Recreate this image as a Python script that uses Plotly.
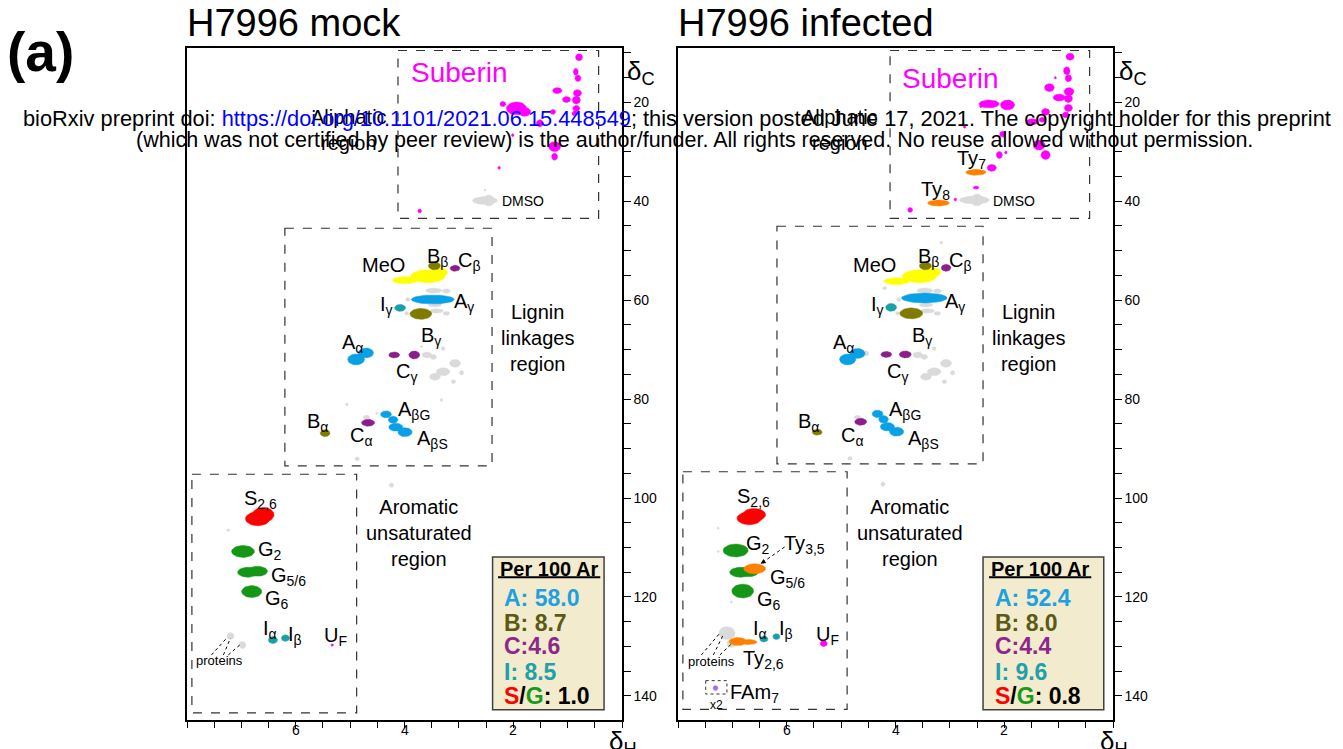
import numpy as np
import plotly.graph_objects as go

# ---------------- data (delta-H ppm, delta-C ppm, width-H, width-C) ----------------
mock_suberin = [(0.79, 10.97, 0.13, 1.4), (0.85, 13.9, 0.09, 1.4), (0.81, 15.2, 0.11, 1.3),
                (1.19, 17.7, 0.17, 1.2), (0.82, 18.2, 0.15, 1.4), (1.02, 19.5, 0.15, 1.2),
                (0.84, 19.6, 0.15, 1.6), (0.84, 21.3, 0.13, 1.2), (0.87, 22.3, 0.10, 1.0),
                (1.27, 22.0, 0.10, 1.0), (1.94, 21.3, 0.37, 2.6), (1.79, 22.0, 0.22, 1.8),
                (2.19, 20.4, 0.11, 1.0), (2.21, 20.6, 0.05, 0.5), (1.51, 24.3, 0.13, 1.4),
                (2.01, 26.7, 0.05, 0.6), (1.24, 29.0, 0.22, 2.0), (1.24, 31.05, 0.11, 1.4),
                (2.26, 33.3, 0.05, 0.6), (3.72, 42.0, 0.07, 0.8), (5.33, 129.7, 0.05, 0.5)]
mock_gray = [(2.52, 39.9, 0.46, 1.6), (2.45, 39.9, 0.20, 2.2), (2.52, 37.8, 0.04, 0.5),
             (3.46, 58.1, 0.30, 1.0), (3.23, 58.2, 0.15, 0.9), (3.94, 59.9, 0.08, 0.8),
             (3.41, 62.2, 0.25, 0.9), (3.23, 62.7, 0.12, 0.8), (3.96, 62.7, 0.08, 0.7),
             (3.44, 61.0, 0.25, 0.8), (3.69, 69.4, 0.04, 0.5), (3.29, 69.8, 0.07, 0.8),
             (3.59, 71.1, 0.18, 1.2), (3.47, 71.5, 0.12, 1.0), (3.07, 72.8, 0.20, 1.6),
             (3.29, 74.5, 0.25, 1.6), (3.44, 75.5, 0.20, 1.4), (2.95, 74.7, 0.08, 0.9),
             (3.10, 76.5, 0.08, 0.8), (5.06, 81.1, 0.05, 0.6), (3.32, 80.2, 0.05, 0.6),
             (4.70, 83.7, 0.12, 0.8), (4.51, 82.9, 0.05, 0.5), (4.87, 92.1, 0.08, 0.8),
             (7.20, 127.9, 0.13, 1.4), (6.98, 129.7, 0.13, 1.4), (7.24, 106.5, 0.06, 0.5),
             (4.24, 97.4, 0.08, 0.9)]
mock_meo = [(3.99, 56.0, 0.46, 1.4), (3.57, 55.2, 0.63, 2.6), (3.36, 54.4, 0.30, 2.0)]
mock_A = [(3.48, 59.9, 0.79, 1.8), (4.89, 72.0, 0.31, 2.2), (4.71, 70.7, 0.28, 2.0),
          (4.34, 83.1, 0.20, 1.4), (4.21, 84.2, 0.18, 1.4), (4.16, 85.7, 0.26, 1.6),
          (3.99, 86.7, 0.26, 1.8)]
mock_B = [(3.45, 53.1, 0.22, 1.6), (3.70, 62.8, 0.40, 2.2), (5.46, 86.9, 0.18, 1.4)]
mock_C = [(3.07, 53.6, 0.18, 1.2), (4.19, 71.1, 0.20, 1.2), (3.82, 71.1, 0.20, 1.6),
          (4.67, 84.8, 0.24, 1.4)]
mock_I = [(4.08, 61.6, 0.20, 1.4), (6.42, 128.7, 0.17, 1.4), (6.19, 128.3, 0.15, 1.3)]
mock_S = [(6.70, 104.2, 0.45, 2.8), (6.60, 103.4, 0.40, 3.0)]
mock_G = [(6.97, 110.8, 0.42, 2.4), (6.88, 115.0, 0.38, 2.0), (6.70, 114.8, 0.36, 2.0),
          (6.81, 118.9, 0.37, 2.4)]

inf_suberin = [(0.79, 10.85, 0.15, 1.4), (0.85, 13.7, 0.12, 1.6), (0.82, 15.2, 0.12, 1.4),
               (1.06, 15.1, 0.04, 0.5), (1.17, 17.1, 0.18, 1.6), (0.81, 17.9, 0.18, 1.6),
               (0.99, 19.1, 0.22, 1.4), (0.82, 19.3, 0.15, 1.6), (0.82, 21.2, 0.15, 1.4),
               (0.87, 22.6, 0.12, 1.2), (1.24, 22.0, 0.15, 1.4), (2.28, 20.4, 0.37, 1.6),
               (1.94, 20.6, 0.26, 2.0), (2.43, 20.9, 0.05, 0.5), (1.48, 24.0, 0.22, 1.2),
               (1.30, 23.6, 0.12, 1.0), (2.73, 25.0, 0.05, 0.6), (2.03, 26.5, 0.11, 1.2),
               (1.36, 28.7, 0.22, 2.0), (1.24, 30.7, 0.17, 1.8), (2.09, 30.7, 0.11, 1.4),
               (1.97, 30.2, 0.05, 0.6), (2.23, 33.3, 0.17, 1.4), (2.52, 37.3, 0.11, 0.6),
               (2.90, 39.7, 0.05, 0.6), (3.73, 41.8, 0.09, 1.0), (5.32, 129.4, 0.13, 1.2)]
inf_gray = [(2.55, 39.8, 0.55, 1.6), (2.50, 39.8, 0.22, 2.4),
            (3.46, 58.1, 0.30, 1.0), (3.23, 58.2, 0.15, 0.9), (3.94, 59.9, 0.08, 0.8),
            (3.41, 62.2, 0.25, 0.9), (3.23, 62.7, 0.12, 0.8), (3.96, 62.7, 0.08, 0.7),
            (3.44, 61.0, 0.25, 0.8), (3.29, 69.8, 0.07, 0.8), (3.59, 71.1, 0.18, 1.2),
            (3.47, 71.5, 0.12, 1.0), (3.07, 72.8, 0.20, 1.6), (3.29, 74.5, 0.25, 1.6),
            (3.44, 75.5, 0.20, 1.4), (2.95, 74.7, 0.08, 0.9), (3.10, 76.5, 0.08, 0.8),
            (3.16, 48.4, 0.05, 0.6), (4.20, 57.6, 0.08, 0.6), (4.54, 70.8, 0.10, 1.0),
            (4.70, 83.7, 0.12, 0.8), (4.84, 92.0, 0.08, 0.8),
            (7.10, 127.3, 0.30, 2.6), (7.02, 129.4, 0.16, 1.6), (7.26, 106.1, 0.04, 0.5),
            (7.26, 110.8, 0.04, 0.5), (4.23, 97.2, 0.08, 0.9), (4.17, 103.0, 0.04, 0.5),
            (7.02, 121.0, 0.04, 0.5)]
inf_meo = [(3.98, 56.2, 0.46, 1.4), (3.56, 55.2, 0.63, 2.6), (3.33, 54.4, 0.32, 2.0)]
inf_A = [(3.47, 59.6, 0.84, 2.0), (4.88, 72.0, 0.30, 2.2), (4.70, 70.8, 0.28, 2.0),
         (4.33, 83.0, 0.20, 1.5), (4.22, 84.1, 0.18, 1.5), (4.15, 85.6, 0.26, 1.7),
         (3.98, 86.6, 0.26, 1.8)]
inf_B = [(3.45, 53.1, 0.22, 1.6), (3.71, 62.7, 0.42, 2.2), (5.44, 86.7, 0.18, 1.2)]
inf_C = [(3.07, 53.5, 0.18, 1.4), (4.17, 71.0, 0.20, 1.2), (3.82, 71.0, 0.22, 1.4),
         (4.64, 84.6, 0.22, 1.4)]
inf_I = [(4.08, 61.5, 0.20, 1.6), (6.42, 128.5, 0.15, 1.2), (6.19, 128.0, 0.13, 1.2)]
inf_S = [(6.69, 104.1, 0.45, 2.6), (6.60, 103.4, 0.42, 2.6)]
inf_G = [(6.94, 110.6, 0.46, 2.6), (6.85, 115.0, 0.40, 2.0), (6.70, 114.9, 0.36, 2.0),
         (6.81, 118.8, 0.40, 2.8)]
inf_Ty = [(2.52, 34.2, 0.37, 1.2), (3.21, 40.4, 0.40, 1.2), (6.59, 114.3, 0.40, 2.0),
          (6.90, 129.0, 0.32, 1.6), (6.70, 129.1, 0.30, 1.0)]
inf_FAm = [(7.31, 138.4, 0.09, 1.0)]

# per 100 Ar values
mock_values = {"A": "58.0", "B": "8.7", "C": "4.6", "I": "8.5", "SG": "1.0"}
inf_values = {"A": "52.4", "B": "8.0", "C": "4.4", "I": "9.6", "SG": "0.8"}

titles = ["H7996 mock", "H7996 infected"]
x_tick_labels = [2, 4, 6]
y_tick_labels = [20, 40, 60, 80, 100, 120, 140]

# peak labels (text, dH, dC)
lignin_labels = [("MeO", 4.38, 52.9), ("B<sub>β</sub>", 3.40, 51.5), ("C<sub>β</sub>", 2.80, 52.2),
                 ("I<sub>γ</sub>", 4.34, 61.2), ("A<sub>γ</sub>", 2.91, 60.6),
                 ("B<sub>γ</sub>", 3.52, 67.3), ("A<sub>α</sub>", 4.95, 68.7),
                 ("C<sub>γ</sub>", 3.97, 74.6), ("A<sub>βG</sub>", 3.83, 82.3),
                 ("B<sub>α</sub>", 5.60, 84.8), ("C<sub>α</sub>", 4.80, 87.5),
                 ("A<sub>βS</sub>", 3.49, 88.2)]
mock_arom_labels = [("S<sub>2,6</sub>", 6.65, 100.3), ("G<sub>2</sub>", 6.47, 110.7),
                    ("G<sub>5/6</sub>", 6.13, 115.8), ("G<sub>6</sub>", 6.34, 120.6),
                    ("I<sub>α</sub>", 6.48, 126.6), ("I<sub>β</sub>", 6.01, 127.8),
                    ("U<sub>F</sub>", 5.26, 127.9)]
inf_arom_labels = [("S<sub>2,6</sub>", 6.62, 100.0), ("G<sub>2</sub>", 6.53, 109.4),
                   ("Ty<sub>3,5</sub>", 5.67, 109.4), ("G<sub>5/6</sub>", 5.98, 116.2),
                   ("G<sub>6</sub>", 6.33, 120.8), ("I<sub>α</sub>", 6.49, 126.5),
                   ("I<sub>β</sub>", 6.01, 126.6), ("U<sub>F</sub>", 5.25, 127.8),
                   ("Ty<sub>2,6</sub>", 6.42, 132.7), ("FAm<sub>7</sub>", 6.59, 139.4),
                   ("Ty<sub>7</sub>", 2.61, 31.6), ("Ty<sub>8</sub>", 3.27, 37.9)]

COL = {"suberin": "#FF00FF", "gray": "#DADADA", "meo": "#FFFF00", "A": "#0AA0E6",
       "B": "#807A00", "C": "#8C1E8C", "I": "#16A0A8", "S": "#FF0000", "G": "#169616",
       "Ty": "#FF8000", "FAm": "#A66BE8"}
TXT = {"A": "#1EA0E1", "B": "#5A5A14", "C": "#8C288C", "I": "#20A0AA", "S": "#FF0000",
       "G": "#1A9A1A"}
FONT = "Arial, Liberation Sans, sans-serif"

# page geometry: the html body adds an 8 px margin
OFF = 8
W, H = 1343 - OFF, 749 - OFF

fig = go.Figure()
tt = np.linspace(0, 2 * np.pi, 40)


def blobs(peaks, color, xa, ya):
    xs, ys = [], []
    for h, c, wh, wc in peaks:
        xs += list(h + wh / 2 * np.cos(tt)) + [None]
        ys += list(c + wc / 2 * np.sin(tt)) + [None]
    fig.add_trace(go.Scatter(x=xs, y=ys, xaxis=xa, yaxis=ya, mode="lines", fill="toself",
                             fillcolor=color, line=dict(color=color, width=0.5),
                             hoverinfo="skip", showlegend=False))


panels = [
    ("x", "y", [(mock_gray, "gray"), (mock_suberin, "suberin"), (mock_meo, "meo"), (mock_A, "A"),
                (mock_B, "B"), (mock_C, "C"), (mock_I, "I"), (mock_S, "S"), (mock_G, "G")]),
    ("x2", "y2", [(inf_gray, "gray"), (inf_suberin, "suberin"), (inf_meo, "meo"), (inf_A, "A"),
                  (inf_B, "B"), (inf_C, "C"), (inf_I, "I"), (inf_S, "S"), (inf_G, "G"),
                  (inf_Ty, "Ty"), (inf_FAm, "FAm")]),
]
for xa, ya, groups in panels:
    for pk, key in groups:
        blobs(pk, COL[key], xa, ya)

# ---------------- axes ----------------
xdom = [[(187 - OFF) / W, (622 - OFF) / W], [(678 - OFF) / W, (1113 - OFF) / W]]
ydom = [1 - (720 - OFF) / H, 1 - (48 - OFF) / H]
tick_common = dict(ticks="outside", tickwidth=1.2, tickcolor="black")
axis_common = dict(showline=True, linewidth=1.5, linecolor="black", mirror=True, showgrid=False,
                   zeroline=False, tickfont=dict(family=FONT, size=14, color="black"), **tick_common)
lay = {}
for i, (xa, ya) in enumerate([("xaxis", "yaxis"), ("xaxis2", "yaxis2")]):
    lay[xa] = dict(domain=xdom[i], range=[8, 0], anchor="y" if i == 0 else "y2",
                   tickmode="array", tickvals=x_tick_labels, ticklen=6, showticklabels=False,
                   minor=dict(dtick=0.5, tick0=0, ticklen=6, showgrid=False, **tick_common),
                   **axis_common)
    lay[ya] = dict(domain=ydom, range=[144.85, 9.09], anchor="x" if i == 0 else "x2", side="right",
                   tickmode="array", tickvals=y_tick_labels, ticklen=7,
                   minor=dict(dtick=5, tick0=0, ticklen=7, showgrid=False, **tick_common),
                   **axis_common)

shapes, ann = [], []

# x tick labels placed just under the ticks (closer than plotly's default gap)
for xr, yr in [("x", "y domain"), ("x2", "y2 domain")]:
    for v in x_tick_labels:
        ann.append(dict(xref=xr, yref=yr, x=v, y=0, yshift=0, text=str(v), showarrow=False,
                        xanchor="center", yanchor="top",
                        font=dict(family=FONT, size=14, color="black")))


def box(xr, yr, h0, h1, c0, c1, dash="dash", fill=None, lc="#333333", lw=1.2):
    shapes.append(dict(type="rect", xref=xr, yref=yr, x0=h0, x1=h1, y0=c0, y1=c1,
                       line=dict(color=lc, width=lw, dash=dash),
                       fillcolor=fill if fill else "rgba(0,0,0,0)", layer="above"))


def txt(xr, yr, x, y, s, size=20, color="black", xanchor="center", yanchor="middle", bold=False):
    ann.append(dict(xref=xr, yref=yr, x=x, y=y, text=("<b>%s</b>" % s) if bold else s,
                    showarrow=False, xanchor=xanchor, yanchor=yanchor,
                    font=dict(family=FONT, size=size, color=color)))


def seg(xr, yr, h0, c0, h1, c1, dash="dot", w=1, color="black"):
    shapes.append(dict(type="line", xref=xr, yref=yr, x0=h0, y0=c0, x1=h1, y1=c1,
                       line=dict(color=color, width=w, dash=dash), layer="above"))


# region boxes
box("x", "y", 4.12, 0.43, 9.6, 43.5)
box("x", "y", 6.20, 2.39, 45.5, 93.5)
box("x", "y", 7.91, 4.88, 95.2, 143.4)
box("x2", "y2", 4.10, 0.43, 9.6, 43.5)
box("x2", "y2", 6.18, 2.39, 45.1, 93.1)
box("x2", "y2", 7.91, 4.89, 94.7, 142.7)
box("x2", "y2", 7.49, 7.10, 136.9, 139.6, dash="dot", lw=1)

for xr, yr, vals, bx in [("x", "y", mock_values, (2.38, 0.33)), ("x2", "y2", inf_values, (2.39, 0.17))]:
    box(xr, yr, bx[0], bx[1], 111.9, 142.8, dash="solid", fill="#F3EBCD", lc="#404040", lw=1.5)
    txt(xr, yr, 2.28, 114.3, "Per 100 Ar", size=20, xanchor="left", bold=True)
    seg(xr, yr, 2.28, 116.0, 0.40, 116.0, dash="solid", w=2)
    txt(xr, yr, 2.21, 120.3, "A: " + vals["A"], size=23, color=TXT["A"], xanchor="left", bold=True)
    txt(xr, yr, 2.21, 125.3, "B: " + vals["B"], size=23, color=TXT["B"], xanchor="left", bold=True)
    txt(xr, yr, 2.21, 130.0, "C:" + vals["C"], size=23, color=TXT["C"], xanchor="left", bold=True)
    txt(xr, yr, 2.21, 135.1, "I: " + vals["I"], size=23, color=TXT["I"], xanchor="left", bold=True)
    txt(xr, yr, 2.21, 140.1, "<span style='color:%s'>S</span>/<span style='color:%s'>G</span>: %s"
        % (TXT["S"], TXT["G"], vals["SG"]), size=23, xanchor="left", bold=True)

# region labels & peak labels
for xr, yr, sub_y, arom in [("x", "y", 14.1, mock_arom_labels), ("x2", "y2", 15.2, inf_arom_labels)]:
    txt(xr, yr, 3.92, sub_y, "Suberin", size=28, color="#FF00FF", xanchor="left")
    txt(xr, yr, 5.02, 25.6, "Aliphatic<br>region", size=20)
    txt(xr, yr, 1.55, 67.7, "Lignin<br>linkages<br>region", size=20)
    txt(xr, yr, 3.74, 107.1, "Aromatic<br>unsaturated<br>region", size=20)
    txt(xr, yr, 2.24, 40.1, "DMSO", size=14, xanchor="left")
    for s, h, c in lignin_labels + arom:
        txt(xr, yr, h, c, s, size=20)

txt("x", "y", 7.41, 132.9, "proteins", size=13)
txt("x2", "y2", 7.39, 133.1, "proteins", size=13)
txt("x2", "y2", 7.29, 141.8, "x2", size=12)
for h0, c0, h1, c1 in [(7.55, 131.7, 7.27, 128.3), (7.33, 131.7, 7.20, 128.3), (7.24, 131.7, 7.03, 129.7)]:
    seg("x", "y", h0, c0, h1, c1)
for h0, c0, h1, c1 in [(7.57, 131.7, 7.23, 127.3), (7.35, 131.7, 7.17, 127.7), (7.23, 131.7, 7.01, 129.4)]:
    seg("x2", "y2", h0, c0, h1, c1)
seg("x2", "y2", 6.04, 109.9, 6.48, 113.3)
ann.append(dict(xref="x2", yref="y2", x=6.48, y=113.3, ax=6.40, ay=112.7, axref="x2", ayref="y2",
                text="", showarrow=True, arrowhead=2, arrowsize=1, arrowwidth=1, arrowcolor="black"))


# axis titles, panel titles, watermark (page pixel positions)
def ptxt(xp, yp, s, size, xanchor="center", color="black", bold=False):
    ann.append(dict(xref="paper", yref="paper", x=(xp - OFF) / W, y=1 - (yp - OFF) / H,
                    text=("<b>%s</b>" % s) if bold else s, showarrow=False, xanchor=xanchor,
                    yanchor="middle", font=dict(family=FONT, size=size, color=color)))


ptxt(185, 23, titles[0], 38, xanchor="left")
ptxt(676, 23, titles[1], 38, xanchor="left")
ptxt(5, 52, "(a)", 55, xanchor="left", bold=True)
ptxt(641, 72, "δ<sub>C</sub>", 26)
ptxt(1133, 72, "δ<sub>C</sub>", 26)
ptxt(623, 742, "δ<sub>H</sub>", 26)
ptxt(1114, 742, "δ<sub>H</sub>", 26)
ptxt(677, 118, "bioRxiv preprint doi: <span style='color:#0000FF'>https://doi.org/10.1101/2021.06.15.448549</span>; "
     "this version posted June 17, 2021. The copyright holder for this preprint", 21.8)
ptxt(695, 140, "(which was not certified by peer review) is the author/funder. All rights reserved. "
     "No reuse allowed without permission.", 21.5)

fig.update_layout(width=W, height=H, margin=dict(l=0, r=0, t=0, b=0), plot_bgcolor="white",
                  paper_bgcolor="white", shapes=shapes, annotations=ann, showlegend=False,
                  font=dict(family=FONT), **lay)
fig.write_html("out.html")
